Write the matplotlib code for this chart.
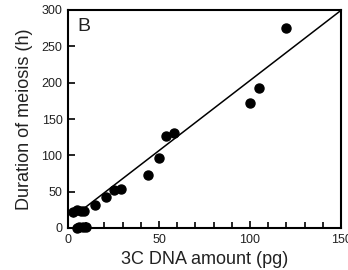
import matplotlib
matplotlib.use("Agg")
import matplotlib.pyplot as plt
import numpy as np
from matplotlib.ticker import MultipleLocator

plt.rcParams['font.family'] = ['Liberation Sans', 'DejaVu Sans']

dna = [3, 5, 7, 9, 6, 8, 5, 10, 15, 21, 25, 29, 44, 50, 54, 58, 100, 105, 120]
duration = [22, 25, 24, 24, 2, 1, 0, 2, 32, 43, 52, 54, 73, 96, 127, 131, 172, 193, 275]

fit_x = [3, 150]
fit_slope = 1.93
fit_intercept = 10

fig = plt.figure(figsize=(3.48, 2.70), dpi=100)
ax = fig.add_axes([68/348, 42/270, (341-68)/348, (228-10)/270])

ax.plot(dna, duration, 'o', color='black', markersize=6.5, zorder=3, clip_on=False)
fx = np.array(fit_x)
ax.plot(fx, fit_slope * fx + fit_intercept, color='black', lw=1.1)

ax.set_xlim(0, 150)
ax.set_ylim(0, 300)
ax.xaxis.set_major_locator(MultipleLocator(50))
ax.xaxis.set_minor_locator(MultipleLocator(10))
ax.yaxis.set_major_locator(MultipleLocator(50))
ax.tick_params(axis='both', which='major', direction='in', length=5, width=1.2,
               labelsize=9, pad=4, labelcolor='#222222')
ax.tick_params(axis='x', which='minor', direction='in', length=4, width=1.2)
for s in ax.spines.values():
    s.set_linewidth(1.5)

ax.set_xlabel('3C DNA amount (pg)', fontsize=13, labelpad=4, color='#222222')
ax.set_ylabel('Duration of meiosis (h)', fontsize=13, labelpad=6, color='#222222')
ax.text(0.035, 0.965, 'B', transform=ax.transAxes, fontsize=14, va='top', ha='left',
        color='#222222')

fig.savefig('out.png', dpi=100)
